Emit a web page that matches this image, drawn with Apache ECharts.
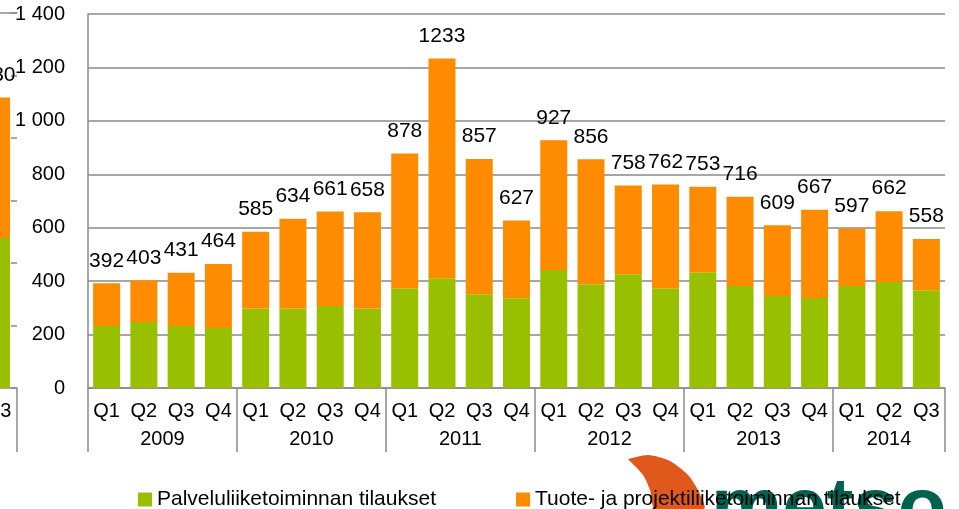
<!DOCTYPE html>
<html>
<head>
<meta charset="utf-8">
<script src="https://cdn.jsdelivr.net/npm/echarts@6/dist/echarts.min.js"></script>
<style>
    html, body { margin: 0; padding: 0; background: #fff; }
    #chart { width: 959px; height: 509px; }
</style>
</head>
<body>
<div id="chart"></div>
<script>
    // tilaukset neljännesvuosittain, milj. euroa
    var years = ['2009', '2010', '2011', '2012', '2013', '2014'];
    var quartersPerYear = [4, 4, 4, 4, 4, 3];
    var quarterNames = ['Q1', 'Q2', 'Q3', 'Q4'];

    var palvelu = [232, 247, 232, 225, 298, 298, 307, 298, 373, 411, 351, 336, 442, 388, 426, 373, 433, 382, 344, 337, 382, 397, 366];
    var tuote   = [160, 156, 199, 239, 287, 336, 354, 360, 505, 822, 506, 291, 485, 468, 332, 389, 320, 334, 265, 330, 215, 265, 192];
    var totals  = [392, 403, 431, 464, 585, 634, 661, 658, 878, 1233, 857, 627, 927, 856, 758, 762, 753, 716, 609, 667, 597, 662, 558];

    // edellisen dian reuna vasemmalla (vain viimeinen pylväs näkyy)
    var edellinenCat = ['Q3'];
    var edellinenPalvelu = [480];
    var edellinenTuote = [450];
    var edellinenTotal = [930];

    var seriesNames = ['Palveluliiketoiminnan tilaukset', 'Tuote- ja projektiliiketoiminnan tilaukset'];
    var green = '#99c000';
    var orange = '#ff8c00';
    var gray = '#8a8a8a';
    var font = 'Liberation Sans, Arial, sans-serif';

    var categories = [];
    var yearLabelAt = {};
    var idx = 0;
    years.forEach(function (y, g) {
        var n = quartersPerYear[g];
        for (var q = 0; q < n; q++) {
            categories.push(y + ' ' + quarterNames[q]);
        }
        if (n % 2 === 0) {
            yearLabelAt[idx + n / 2 - 1] = '{s|' + y + '}';
        } else {
            yearLabelAt[idx + (n - 1) / 2] = '{c|' + y + '}';
        }
        idx += n;
    });

    var myChart = echarts.init(document.getElementById('chart'));

    var option = {
        animation: false,
        backgroundColor: '#fff',
        textStyle: { fontFamily: font, color: '#000' },
        grid: [
            { left: 88, right: 14, top: 14, bottom: 121, outerBoundsMode: 'none' },
            { left: -21, width: 38, top: 13, bottom: 121, outerBoundsMode: 'none' }
        ],
        legend: {
            z: 10,
            left: 133,
            top: 484,
            itemWidth: 14,
            itemHeight: 14,
            itemGap: 80,
            icon: 'rect',
            data: seriesNames,
            textStyle: { fontSize: 21, color: '#000', fontFamily: font }
        },
        xAxis: [
            {
                type: 'category',
                gridIndex: 0,
                data: categories,
                axisLine: { lineStyle: { color: gray, width: 1.5 } },
                axisTick: {
                    show: true,
                    length: 64,
                    lineStyle: { color: gray, width: 1.5 },
                    interval: function (i) { return i % 4 === 0; }
                },
                axisLabel: {
                    interval: 0,
                    margin: 13,
                    fontSize: 20,
                    color: '#000',
                    formatter: function (v) { return v.split(' ')[1]; }
                }
            },
            {
                type: 'category',
                gridIndex: 0,
                position: 'bottom',
                offset: 28,
                data: categories,
                axisLine: { show: false },
                axisTick: { show: false },
                axisLabel: {
                    interval: 0,
                    margin: 13,
                    formatter: function (v, i) { return yearLabelAt[i] || ''; },
                    rich: {
                        s: { fontSize: 20, color: '#000', padding: [0, 0, 0, 37] },
                        c: { fontSize: 20, color: '#000' }
                    }
                }
            },
            {
                type: 'category',
                gridIndex: 1,
                data: edellinenCat,
                axisLine: { lineStyle: { color: gray, width: 1.5 } },
                axisTick: { show: true, length: 64, lineStyle: { color: gray, width: 1.5 } },
                axisLabel: { interval: 0, margin: 13, fontSize: 20, color: '#000' }
            },
            {
                type: 'category',
                gridIndex: 1,
                position: 'top',
                data: edellinenCat,
                axisLine: { lineStyle: { color: gray, width: 1.5 } },
                axisTick: { show: false },
                axisLabel: { show: false }
            }
        ],
        yAxis: [
            {
                type: 'value',
                gridIndex: 0,
                min: 0,
                max: 1400,
                interval: 200,
                axisLine: { show: true, lineStyle: { color: gray, width: 1.5 } },
                axisTick: { show: false },
                splitLine: { lineStyle: { color: gray, width: 1.5 } },
                axisLabel: {
                    margin: 23,
                    fontSize: 20,
                    color: '#000',
                    formatter: function (v) {
                        return v >= 1000 ? Math.floor(v / 1000) + ' ' + String(v % 1000).padStart(3, '0') : String(v);
                    }
                }
            },
            {
                type: 'value',
                gridIndex: 1,
                position: 'right',
                min: 0,
                max: 1200,
                interval: 200,
                axisLine: { show: false },
                axisTick: { show: true, inside: true, length: 6, lineStyle: { color: gray, width: 1.5 } },
                splitLine: { show: false },
                axisLabel: { show: false }
            }
        ],
        series: [
            {
                name: seriesNames[0],
                type: 'bar',
                stack: 'a',
                barWidth: 27,
                itemStyle: { color: green },
                data: palvelu
            },
            {
                name: seriesNames[1],
                type: 'bar',
                stack: 'a',
                barWidth: 27,
                itemStyle: { color: orange },
                label: {
                    show: true,
                    position: 'top',
                    distance: 12,
                    fontSize: 21,
                    color: '#000',
                    formatter: function (p) { return totals[p.dataIndex]; }
                },
                data: tuote
            },
            {
                name: seriesNames[0],
                type: 'bar',
                stack: 'b',
                xAxisIndex: 2,
                yAxisIndex: 1,
                barWidth: 24,
                itemStyle: { color: green },
                data: edellinenPalvelu
            },
            {
                name: seriesNames[1],
                type: 'bar',
                stack: 'b',
                xAxisIndex: 2,
                yAxisIndex: 1,
                barWidth: 24,
                itemStyle: { color: orange },
                label: {
                    show: true,
                    position: 'top',
                    distance: 12,
                    fontSize: 21,
                    color: '#000',
                    formatter: function (p) { return edellinenTotal[p.dataIndex]; }
                },
                data: edellinenTuote
            }
        ],
        graphic: [
            // Metso-logo, alareuna leikattu
            {
                type: 'polygon',
                z: 1,
                shape: {
                    points: [[628, 459], [648, 455], [670, 461], [688, 475], [699, 492], [704, 509],
                             [655, 509], [650, 490], [643, 475], [628, 459]],
                    smooth: 0.25
                },
                style: { fill: '#e0581c' }
            },
            {
                type: 'text',
                z: 1,
                x: 711,
                y: 511,
                style: {
                    text: 'metso',
                    fontSize: 80,
                    fontWeight: 'bold',
                    fontFamily: font,
                    fill: '#00614f',
                    verticalAlign: 'middle'
                }
            }
        ]
    };

    myChart.setOption(option);
</script>
</body>
</html>
